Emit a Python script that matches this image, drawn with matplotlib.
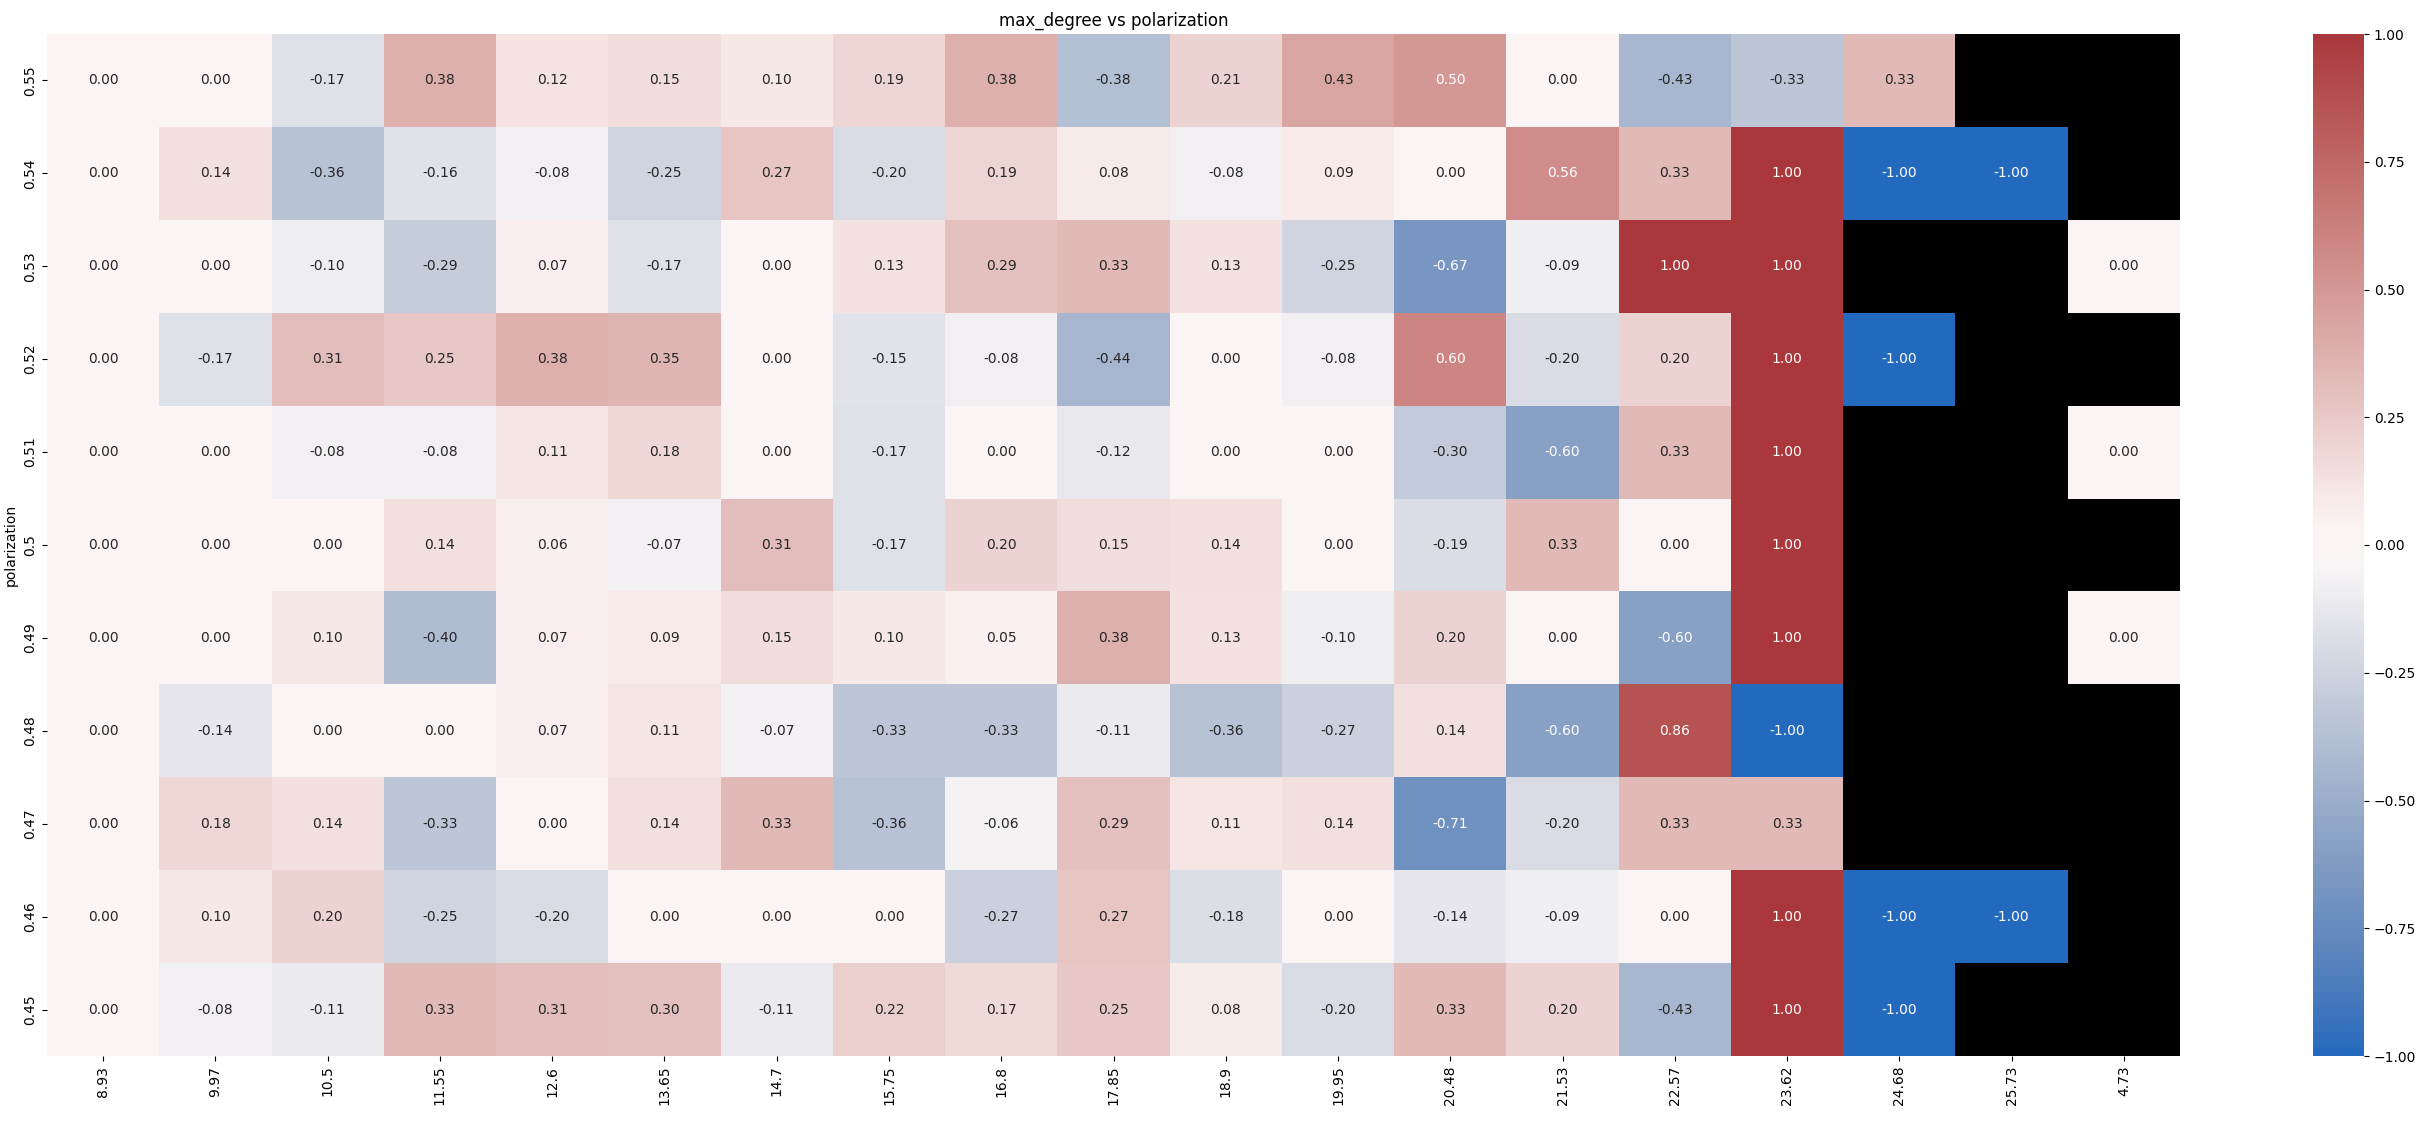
import numpy as np
import pandas as pd
import matplotlib
matplotlib.use("Agg")
import matplotlib.pyplot as plt
import seaborn as sns

nan = np.nan

max_degree = ["8.93", "9.97", "10.5", "11.55", "12.6", "13.65", "14.7", "15.75", "16.8",
              "17.85", "18.9", "19.95", "20.48", "21.53", "22.57", "23.62", "24.68", "25.73", "4.73"]
polarization = ["0.55", "0.54", "0.53", "0.52", "0.51", "0.5", "0.49", "0.48", "0.47", "0.46", "0.45"]

r055 = [0.00, 0.00, -0.17, 0.38, 0.12, 0.15, 0.10, 0.19, 0.38, -0.38, 0.21, 0.43, 0.50, 0.00, -0.43, -0.33, 0.33, nan, nan]
r054 = [0.00, 0.14, -0.36, -0.16, -0.08, -0.25, 0.27, -0.20, 0.19, 0.08, -0.08, 0.09, 0.00, 0.56, 0.33, 1.00, -1.00, -1.00, nan]
r053 = [0.00, 0.00, -0.10, -0.29, 0.07, -0.17, 0.00, 0.13, 0.29, 0.33, 0.13, -0.25, -0.67, -0.09, 1.00, 1.00, nan, nan, 0.00]
r052 = [0.00, -0.17, 0.31, 0.25, 0.38, 0.35, 0.00, -0.15, -0.08, -0.44, 0.00, -0.08, 0.60, -0.20, 0.20, 1.00, -1.00, nan, nan]
r051 = [0.00, 0.00, -0.08, -0.08, 0.11, 0.18, 0.00, -0.17, 0.00, -0.12, 0.00, 0.00, -0.30, -0.60, 0.33, 1.00, nan, nan, 0.00]
r050 = [0.00, 0.00, 0.00, 0.14, 0.06, -0.07, 0.31, -0.17, 0.20, 0.15, 0.14, 0.00, -0.19, 0.33, 0.00, 1.00, nan, nan, nan]
r049 = [0.00, 0.00, 0.10, -0.40, 0.07, 0.09, 0.15, 0.10, 0.05, 0.38, 0.13, -0.10, 0.20, 0.00, -0.60, 1.00, nan, nan, 0.00]
r048 = [0.00, -0.14, 0.00, 0.00, 0.07, 0.11, -0.07, -0.33, -0.33, -0.11, -0.36, -0.27, 0.14, -0.60, 0.86, -1.00, nan, nan, nan]
r047 = [0.00, 0.18, 0.14, -0.33, 0.00, 0.14, 0.33, -0.36, -0.06, 0.29, 0.11, 0.14, -0.71, -0.20, 0.33, 0.33, nan, nan, nan]
r046 = [0.00, 0.10, 0.20, -0.25, -0.20, 0.00, 0.00, 0.00, -0.27, 0.27, -0.18, 0.00, -0.14, -0.09, 0.00, 1.00, -1.00, -1.00, nan]
r045 = [0.00, -0.08, -0.11, 0.33, 0.31, 0.30, -0.11, 0.22, 0.17, 0.25, 0.08, -0.20, 0.33, 0.20, -0.43, 1.00, -1.00, nan, nan]

df = pd.DataFrame([r055, r054, r053, r052, r051, r050, r049, r048, r047, r046, r045],
                  index=polarization, columns=max_degree)

fig = plt.figure(figsize=(24.26, 11.21), dpi=100)
W, H = 2426, 1121
ax = fig.add_axes([47 / W, 1 - 1056 / H, (2180 - 47) / W, (1056 - 34) / H])
cax = fig.add_axes([2313 / W, 1 - 1056 / H, 51 / W, (1056 - 34) / H])

sns.heatmap(df, ax=ax, cbar_ax=cax, cmap="vlag", vmin=-1, vmax=1,
            annot=True, fmt=".2f")
ax.set_facecolor("black")
ax.set_title("max_degree vs polarization")
ax.set_ylabel("polarization")
ax.set_xlabel("")
plt.setp(ax.get_xticklabels(), rotation=90)
plt.setp(ax.get_yticklabels(), rotation=90, va="center")
cax.set_yticks([-1, -0.75, -0.5, -0.25, 0, 0.25, 0.5, 0.75, 1])
cax.set_yticklabels([f"{v:.2f}".replace("-", "\u2212") for v in [-1, -0.75, -0.5, -0.25, 0, 0.25, 0.5, 0.75, 1]])

fig.savefig("out.png", dpi=100)
